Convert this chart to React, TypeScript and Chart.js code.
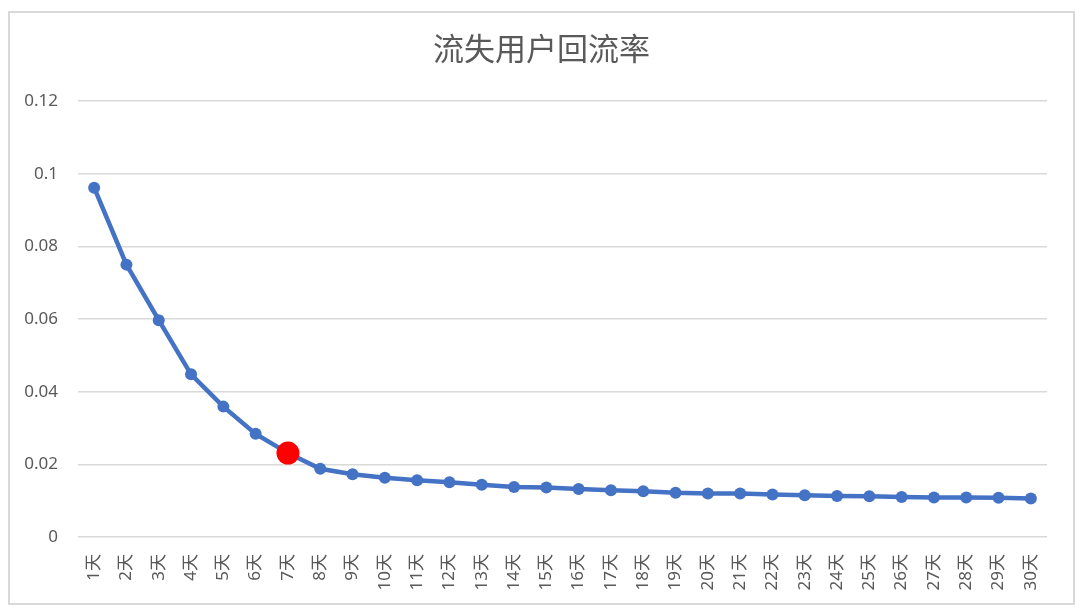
import { useEffect, useRef } from "react";
import { Chart, registerables } from "chart.js";

Chart.register(...registerables);

const days = Array.from({ length: 30 }, (_, i) => `${i + 1}天`);

const returnRate = [
  0.0962, 0.075, 0.0597, 0.0448, 0.0359, 0.0284, 0.0231, 0.0188, 0.0173, 0.0163,
  0.0156, 0.0151, 0.0144, 0.0138, 0.0136, 0.0132, 0.0129, 0.0126, 0.0122, 0.012,
  0.012, 0.0117, 0.0115, 0.0113, 0.0112, 0.011, 0.0109, 0.0109, 0.0108, 0.0106
];

// 7th day is highlighted in red
const highlightIndex = 6;

const fontFamily = "'Noto Sans', 'Noto Sans CJK SC', sans-serif";
const textColor = "#595959";

export default function App() {
  const chartRef = useRef<HTMLCanvasElement>(null);
  const chartInstance = useRef<Chart | null>(null);

  useEffect(() => {
    if (!chartRef.current) return;
    if (chartInstance.current) chartInstance.current.destroy();

    const ctx = chartRef.current.getContext("2d");
    if (!ctx) return;

    chartInstance.current = new Chart(ctx, {
      type: "line",
      data: {
        labels: days,
        datasets: [
          {
            label: "回流率",
            data: returnRate,
            borderColor: "#4472C4",
            borderWidth: 4.5,
            pointBackgroundColor: returnRate.map((_, i) =>
              i === highlightIndex ? "#FF0000" : "#4472C4"
            ),
            pointBorderWidth: 0,
            pointRadius: returnRate.map((_, i) => (i === highlightIndex ? 11.5 : 6)),
            tension: 0
          }
        ]
      },
      options: {
        animation: false,
        responsive: true,
        maintainAspectRatio: false,
        layout: { padding: 0 },
        plugins: {
          legend: { display: false },
          tooltip: { enabled: false },
          title: {
            display: true,
            text: "流失用户回流率",
            color: textColor,
            font: { family: fontFamily, size: 31, weight: "normal", lineHeight: 1.2 },
            padding: { top: 20, bottom: 31 }
          }
        },
        scales: {
          x: {
            offset: true,
            grid: { display: false },
            border: { display: false },
            ticks: {
              color: textColor,
              font: { family: fontFamily, size: 17 },
              minRotation: 90,
              maxRotation: 90,
              autoSkip: false,
              padding: 9
            },
            afterFit: (scale) => {
              scale.height = 66;
            }
          },
          y: {
            min: 0,
            max: 0.12,
            grid: { color: "#d9d9d9", lineWidth: 1.5, drawTicks: false },
            border: { display: false },
            ticks: {
              stepSize: 0.02,
              color: textColor,
              font: { family: fontFamily, size: 17 },
              padding: 20,
              callback: (value) => String(Math.round(Number(value) * 100) / 100)
            },
            afterFit: (scale) => {
              scale.width = 68;
            }
          },
          // empty right-hand axis: keeps a margin on the right so the title stays centred
          spacer: {
            position: "right",
            grid: { display: false },
            border: { display: false },
            ticks: { display: false },
            afterFit: (scale) => {
              scale.width = 26;
            }
          }
        }
      }
    });

    return () => {
      if (chartInstance.current) {
        chartInstance.current.destroy();
        chartInstance.current = null;
      }
    };
  }, []);

  return (
    <div
      style={{
        position: "absolute",
        left: 8,
        top: 11,
        width: 1067,
        height: 594,
        border: "2px solid #d9d9d9",
        boxSizing: "border-box",
        background: "#fff"
      }}
    >
      <canvas ref={chartRef} />
    </div>
  );
}
